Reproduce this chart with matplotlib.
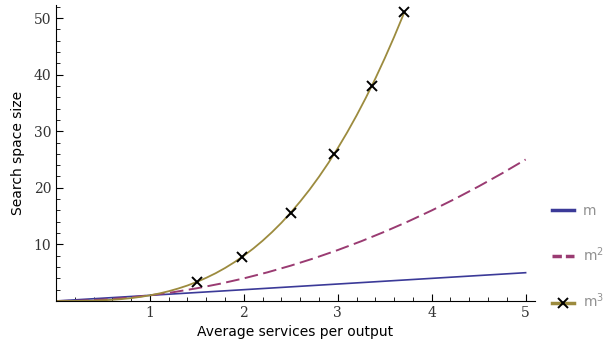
import matplotlib
matplotlib.use("Agg")
import matplotlib.pyplot as plt
from matplotlib.ticker import MultipleLocator

# values
m_x = [0, 5]
m_y = [0, 5]

m2_x = [0, 0.25, 0.5, 0.75, 1, 1.25, 1.5, 1.75, 2, 2.25, 2.5,
        2.75, 3, 3.25, 3.5, 3.75, 4, 4.25, 4.5, 4.75, 5]
m2_y = [0, 0.06, 0.25, 0.56, 1, 1.56, 2.25, 3.06, 4, 5.06, 6.25,
        7.56, 9, 10.56, 12.25, 14.06, 16, 18.06, 20.25, 22.56, 25]

m3_x = [0, 0.1, 0.2, 0.3, 0.4, 0.5, 0.6, 0.7, 0.8, 0.9, 1.0,
        1.1, 1.2, 1.3, 1.4, 1.5, 1.6, 1.7, 1.8, 1.9, 2.0,
        2.1, 2.2, 2.3, 2.4, 2.5, 2.6, 2.7, 2.8, 2.9, 3.0,
        3.1, 3.2, 3.3, 3.4, 3.5, 3.6, 3.7, 3.71]
m3_y = [0, 0.0, 0.01, 0.03, 0.06, 0.13, 0.22, 0.34, 0.51, 0.73, 1.0,
        1.33, 1.73, 2.2, 2.74, 3.38, 4.1, 4.91, 5.83, 6.86, 8.0,
        9.26, 10.65, 12.17, 13.82, 15.63, 17.58, 19.68, 21.95, 24.39, 27.0,
        29.79, 32.77, 35.94, 39.3, 42.88, 46.66, 50.65, 51.07]

mark_x = [1.5, 1.98, 2.5, 2.96, 3.36, 3.71]
mark_y = [3.4, 7.8, 15.6, 26, 38, 51]

labels = ["m", "m$^2$", "m$^3$"]

blue = "#3b3a98"
purple = "#9a3b72"
olive = "#9c8b3e"

fig = plt.figure(figsize=(6.05, 3.51), dpi=100)
ax = fig.add_axes([56 / 605, 50 / 351, 479 / 605, 296 / 351])

ax.plot(m_x, m_y, color=blue, lw=1.2)
ax.plot(m2_x, m2_y, color=purple, lw=1.4, dashes=(7, 2.8))
ax.plot(m3_x, m3_y, color=olive, lw=1.3)
ax.plot(mark_x, mark_y, ls="none", marker="x", color="black", ms=7, mew=1.4)

ax.set_xlim(0, 5.1)
ax.set_ylim(0, 52.3)

ax.spines["top"].set_visible(False)
ax.spines["right"].set_visible(False)
ax.xaxis.set_major_locator(MultipleLocator(1))
ax.xaxis.set_minor_locator(MultipleLocator(0.2))
ax.yaxis.set_major_locator(MultipleLocator(10))
ax.yaxis.set_minor_locator(MultipleLocator(2))
ax.tick_params(which="both", direction="in", colors="black", labelcolor="#333333")
ax.tick_params(which="major", length=5, labelsize=10)
ax.tick_params(which="minor", length=3)
ax.set_xticks([1, 2, 3, 4, 5])
ax.set_yticks([10, 20, 30, 40, 50])
for lab in ax.get_xticklabels() + ax.get_yticklabels():
    lab.set_family("DejaVu Serif")

ax.set_xlabel("Average services per output", fontsize=10, labelpad=4)
ax.set_ylabel("Search space size", fontsize=10, labelpad=6)

# legend handles
h1, = ax.plot([], [], color=blue, lw=2.5)
h2, = ax.plot([], [], color=purple, lw=2.5, dashes=(2.7, 1.15))
h3, = ax.plot([], [], color=olive, lw=2.5, marker="x", mec="black", ms=7, mew=1.4)
leg = fig.legend([h1, h2, h3], labels, loc="center left",
                 bbox_to_anchor=(552 / 605, 1 - 257 / 351), frameon=False,
                 handlelength=1.6, labelspacing=2.0, fontsize=10,
                 handletextpad=0.6, borderpad=0, borderaxespad=0)
for t in leg.get_texts():
    t.set_color("#909090")

fig.savefig("out.png", dpi=100)
